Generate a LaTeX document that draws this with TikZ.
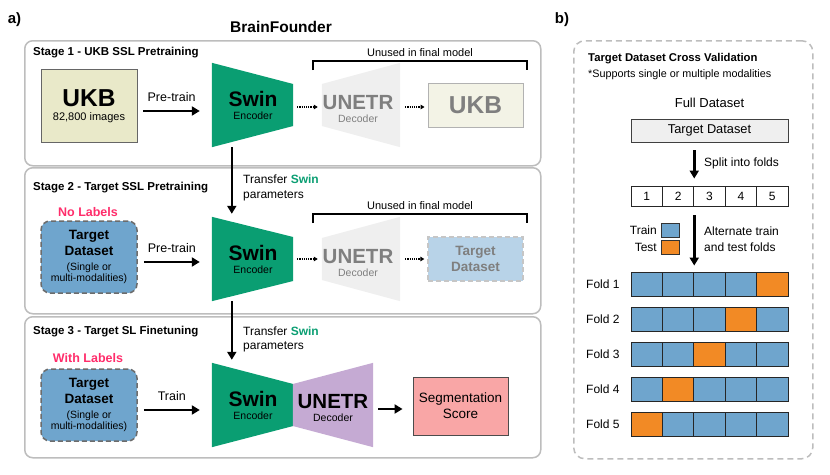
\documentclass[tikz,border=0pt]{standalone}
\usepackage{fontspec}
\setmainfont{Liberation Sans}
\usetikzlibrary{arrows.meta,calc}
\definecolor{swingreen}{HTML}{0A9E72}
\definecolor{ukbfill}{HTML}{E9E9C9}
\definecolor{ukbfade}{HTML}{F3F3E6}
\definecolor{tblue}{HTML}{6FA5CD}
\definecolor{tbluefade}{HTML}{B8D3E8}
\definecolor{unetrpurple}{HTML}{C5AAD3}
\definecolor{decgray}{HTML}{EFEFEF}
\definecolor{segpink}{HTML}{F9A6A6}
\definecolor{lblred}{HTML}{FF2D6B}
\definecolor{testorange}{HTML}{F28A25}
\definecolor{stagegray}{HTML}{BDBDBD}
\definecolor{fadetext}{HTML}{7F7F7F}
\newcommand\fsz[2]{\fontsize{#1}{#2}\selectfont}
\begin{document}
\begin{tikzpicture}[x=1pt,y=-1pt,
  stagebox/.style={draw=stagegray, line width=1.5pt, rounded corners=8pt, anchor=north west, inner sep=0pt},
  stagelbl/.style={anchor=west, font=\fsz{11.5}{13}\bfseries, inner sep=0pt},
  trap/.style={minimum width=#1, minimum height=84pt, inner sep=0pt},
  bigarrow/.style={line width=2.6pt, -{Triangle[length=8pt,width=9pt]}},
  dotarrow/.style={line width=1.1pt, dash pattern=on 1.1pt off 1.1pt, -{Triangle[length=4pt,width=4.5pt]}},
  bracket/.style={line width=1.5pt},
  lbl/.style={font=\fsz{12.5}{15}, inner sep=0pt},
  tgtbox/.style={draw=gray!85!black, line width=1.5pt, dashed, dash pattern=on 5pt off 3pt, rounded corners=9pt, fill=tblue, minimum width=96pt, minimum height=72pt, inner sep=0pt},
  cell/.style={draw=black!85, line width=0.9pt, minimum width=31.4pt, minimum height=24pt, inner sep=0pt},
  rtext/.style={font=\fsz{12}{14.5}, inner sep=0pt}
]
\useasboundingbox (0,0) rectangle (830,474);

% ---------- titles ----------
\node[font=\fsz{15}{18}\bfseries, inner sep=0pt] (alab) at (14.5,20) {a)};
\node[font=\fsz{15.5}{18}\bfseries, inner sep=0pt] (title) at (281,27) {BrainFounder};
\node[font=\fsz{15}{18}\bfseries, inner sep=0pt] (blab) at (562,20) {b)};

% ---------- stage boxes ----------
\node[stagebox, minimum width=516pt, minimum height=125pt] (st1) at (24,40) {};
\node[stagebox, minimum width=516pt, minimum height=146pt] (st2) at (24,167) {};
\node[stagebox, minimum width=516pt, minimum height=141pt] (st3) at (24,316) {};
\node[stagelbl] (st1l) at (33,53) {Stage 1 - UKB SSL Pretraining};
\node[stagelbl] (st2l) at (33,188) {Stage 2 - Target SSL Pretraining};
\node[stagelbl] (st3l) at (33,332) {Stage 3 - Target SL Finetuning};

% ---------- Stage 1 ----------
\node[draw=gray!80!black, line width=0.9pt, fill=ukbfill, minimum width=96pt, minimum height=73pt, inner sep=0pt] (ukb) at (89,105.5) {};
\node[font=\fsz{24.5}{28}\bfseries, inner sep=0pt] (ukbt) at (89,98) {UKB};
\node[font=\fsz{11}{13}, inner sep=0pt] (ukbn) at (89,118) {82,800 images};

\node[trap=81pt] (swin1) at (252.5,105) {};
\fill[swingreen] (swin1.north west) -- ($(swin1.east)+(0,-21)$) -- ($(swin1.east)+(0,21)$) -- (swin1.south west) -- cycle;
\node[font=\fsz{21}{24}\bfseries, inner sep=0pt] (swin1t) at (253,99) {Swin};
\node[font=\fsz{10.5}{12}, inner sep=0pt] (swin1e) at (253,115.5) {Encoder};

\node[trap=78pt] (unetr1) at (361,105) {};
\fill[decgray] ($(unetr1.west)+(0,-21)$) -- (unetr1.north east) -- (unetr1.south east) -- ($(unetr1.west)+(0,21)$) -- cycle;
\node[font=\fsz{20.5}{24}\bfseries, text=fadetext, inner sep=0pt] (unetr1t) at (358,103) {UNETR};
\node[font=\fsz{10.5}{12}, text=fadetext, inner sep=0pt] (unetr1d) at (358,119) {Decoder};

\node[draw=gray!60, line width=0.9pt, fill=ukbfade, minimum width=95pt, minimum height=44pt, inner sep=0pt, font=\fsz{24.5}{28}\bfseries, text=fadetext] (ukbf) at (475.5,105) {UKB};

\draw[bigarrow] ($(ukb.east)+(6,5.5)$) -- node[lbl, above=8pt] (pt1) {Pre-train} ($(swin1.west |- ukb.east)+(-12,5.5)$);
\draw[dotarrow] ($(swin1.east)+(4,2)$) -- ($(unetr1.west)+(-4,2)$);
\draw[dotarrow] ($(unetr1.east)+(5,2)$) -- ($(ukbf.west)+(-3,2)$);

\coordinate (b1l) at (313,70);
\coordinate (b1r) at (527,70);
\draw[bracket] (b1l) -- ++(0,-9) -- ($(b1r)+(0,-9)$) -- (b1r);
\node[font=\fsz{11}{13}, inner sep=0pt] (un1) at (420,53) {Unused in final model};

% ---------- Stage 2 ----------
\node[font=\fsz{12.5}{15}\bfseries, text=lblred, inner sep=0pt] (nolab) at (88,212) {No Labels};
\node[tgtbox] (tgt2) at (89,257) {};
\node[font=\fsz{13.5}{16}\bfseries, align=center, inner sep=0pt] (tgt2t) at (89,243) {Target\\Dataset};
\node[font=\fsz{10.5}{11.5}, align=center, inner sep=0pt] (tgt2s) at (89,273.5) {(Single or\\multi-modalities)};

\node[trap=81pt] (swin2) at (252.5,259) {};
\fill[swingreen] (swin2.north west) -- ($(swin2.east)+(0,-22)$) -- ($(swin2.east)+(0,22)$) -- (swin2.south west) -- cycle;
\node[font=\fsz{21}{24}\bfseries, inner sep=0pt] (swin2t) at (253,253) {Swin};
\node[font=\fsz{10.5}{12}, inner sep=0pt] (swin2e) at (253,269.5) {Encoder};

\node[trap=78pt] (unetr2) at (361,259) {};
\fill[decgray] ($(unetr2.west)+(0,-21)$) -- (unetr2.north east) -- (unetr2.south east) -- ($(unetr2.west)+(0,21)$) -- cycle;
\node[font=\fsz{20.5}{24}\bfseries, text=fadetext, inner sep=0pt] (unetr2t) at (358,257) {UNETR};
\node[font=\fsz{10.5}{12}, text=fadetext, inner sep=0pt] (unetr2d) at (358,273) {Decoder};

\node[draw=gray!45, line width=1.3pt, dashed, dash pattern=on 5pt off 3pt, fill=tbluefade, minimum width=95pt, minimum height=44pt, inner sep=0pt, font=\fsz{13.5}{16}\bfseries, text=fadetext, align=center] (tgtf) at (475.5,259) {Target\\Dataset};

\draw[bigarrow] ($(tgt2.east)+(6,5)$) -- node[lbl, above=8pt] (pt2) {Pre-train} ($(swin2.west |- tgt2.east)+(-12,5)$);
\draw[dotarrow] ($(swin2.east)+(4,0)$) -- ($(unetr2.west)+(-4,0)$);
\draw[dotarrow] ($(unetr2.east)+(5,0)$) -- ($(tgtf.west)+(-3,0)$);

\coordinate (b2l) at (313,223);
\coordinate (b2r) at (527,223);
\draw[bracket] (b2l) -- ++(0,-9) -- ($(b2r)+(0,-9)$) -- (b2r);
\node[font=\fsz{11}{13}, inner sep=0pt] (un2) at (420,206) {Unused in final model};

\draw[bigarrow] ($(swin1.south west)+(20,0)$) -- ($(swin2.north west)+(20,-3)$);
\node[font=\fsz{12}{14.5}, anchor=west, align=left, inner sep=0pt] (tr1) at (243,188) {Transfer \textcolor{swingreen}{\bfseries Swin}\\parameters};

% ---------- Stage 3 ----------
\node[font=\fsz{12.5}{15}\bfseries, text=lblred, inner sep=0pt] (wlab) at (88,358) {With Labels};
\node[tgtbox] (tgt3) at (89,405) {};
\node[font=\fsz{13.5}{16}\bfseries, align=center, inner sep=0pt] (tgt3t) at (89,391) {Target\\Dataset};
\node[font=\fsz{10.5}{11.5}, align=center, inner sep=0pt] (tgt3s) at (89,421.5) {(Single or\\multi-modalities)};

\node[trap=81pt] (swin3) at (252.5,405) {};
\fill[swingreen] (swin3.north west) -- ($(swin3.east)+(0,-21)$) -- ($(swin3.east)+(0,21)$) -- (swin3.south west) -- cycle;
\node[trap=80pt] (unetr3) at (333,405) {};
\fill[unetrpurple] ($(unetr3.west)+(0,-21)$) -- (unetr3.north east) -- (unetr3.south east) -- ($(unetr3.west)+(0,21)$) -- cycle;
\node[font=\fsz{21}{24}\bfseries, inner sep=0pt] (swin3t) at (253,399) {Swin};
\node[font=\fsz{10.5}{12}, inner sep=0pt] (swin3e) at (253,415.5) {Encoder};
\node[font=\fsz{20.5}{24}\bfseries, inner sep=0pt] (unetr3t) at (333,402) {UNETR};
\node[font=\fsz{10.5}{12}, inner sep=0pt] (unetr3d) at (333,418) {Decoder};

\node[draw=black!70, line width=0.9pt, fill=segpink, minimum width=95pt, minimum height=58pt, inner sep=0pt, font=\fsz{13.5}{16}, align=center] (seg) at (460.5,406) {Segmentation\\Score};

\draw[bigarrow] ($(tgt3.east)+(6,5)$) -- node[lbl, above=8pt] (trn) {Train} ($(swin3.west |- tgt3.east)+(-12,5)$);
\draw[bigarrow] ($(unetr3.east)+(5,4)$) -- ($(seg.west |- unetr3.east)+(-10,4)$);

\draw[bigarrow] ($(swin2.south west)+(20,0)$) -- ($(swin3.north west)+(20,-3)$);
\node[font=\fsz{12}{14.5}, anchor=west, align=left, inner sep=0pt] (tr2) at (243,339.5) {Transfer \textcolor{swingreen}{\bfseries Swin}\\parameters};

% ---------- Panel b ----------
\node[draw=stagegray, line width=1.5pt, dashed, dash pattern=on 6pt off 4pt, rounded corners=11pt, anchor=north west, minimum width=239pt, minimum height=418pt, inner sep=0pt] (pb) at (573,40) {};
\node[font=\fsz{11.3}{13}\bfseries, anchor=west, inner sep=0pt] (cvt) at (588,59) {Target Dataset Cross Validation};
\node[font=\fsz{10.8}{13}, anchor=west, inner sep=0pt] (cvs) at (588,75) {*Supports single or multiple modalities};
\node[font=\fsz{13}{15}, inner sep=0pt] (full) at (709.5,103) {Full Dataset};
\node[draw=black!75, line width=0.9pt, fill=decgray, minimum width=157pt, minimum height=23pt, inner sep=0pt, font=\fsz{12.8}{15}] (tdfull) at (709.5,130.5) {Target Dataset};

\foreach \c in {1,...,5} {
  \node[cell, minimum height=20pt, fill=white, font=\fsz{12}{14}] (n\c) at ({631+31.4*(\c-0.5)},196) {\c};
}
\draw[bigarrow] ($(tdfull.south -| n2.east)+(0,8)$) -- ($(n2.north east)+(0,-7)$);
\node[rtext, anchor=west] (split) at (704,163) {Split into folds};

\node[draw=black!80, line width=0.9pt, fill=tblue, minimum width=18pt, minimum height=14pt, inner sep=0pt] (lgtr) at (670,230.5) {};
\node[draw=black!80, line width=0.9pt, fill=testorange, minimum width=18pt, minimum height=14pt, inner sep=0pt] (lgte) at (670,247) {};
\node[rtext, anchor=east] (lgtrt) at (657,230.5) {Train};
\node[rtext, anchor=east] (lgtet) at (657,247) {Test};
\node[rtext, anchor=west] (alt1) at (704,231) {Alternate train};
\node[rtext, anchor=west] (alt2) at (704,247) {and test folds};

\foreach \r/\t in {1/5,2/4,3/3,4/2,5/1} {
  \node[rtext, anchor=west] (fl\r) at (586,{284+35*(\r-1)}) {Fold \r};
  \foreach \c in {1,...,5} {
    \ifnum\c=\t\def\cellcol{testorange}\else\def\cellcol{tblue}\fi
    \node[cell, fill=\cellcol] (r\r c\c) at ({631+31.4*(\c-0.5)},{284+35*(\r-1)}) {};
  }
}
\draw[bigarrow] ($(n2.south east)+(0,9)$) -- ($(r1c2.north east)+(0,-6)$);
\end{tikzpicture}
\end{document}
